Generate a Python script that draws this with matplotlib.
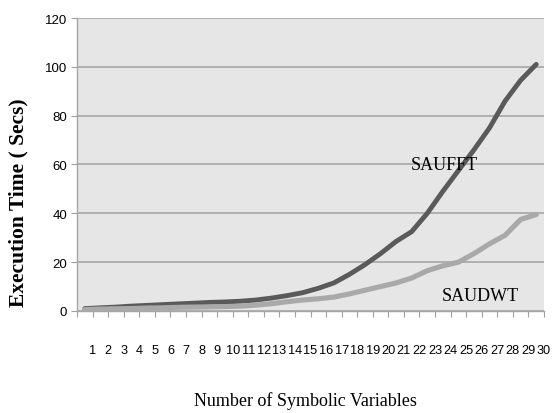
import matplotlib.pyplot as plt
import numpy as np

variables = list(range(1, 31))
sauft = [1.0, 1.3, 1.6, 2.0, 2.3, 2.6, 2.9, 3.2, 3.5, 3.7,
         4.0, 4.5, 5.3, 6.3, 7.5, 9.3, 11.5, 15.0, 19.0, 23.5,
         28.5, 32.5, 40.0, 49.0, 57.5, 66.0, 75.0, 86.0, 94.5, 101.0]
saudwt = [0.6, 0.8, 0.9, 1.0, 1.2, 1.3, 1.5, 1.6, 1.7, 1.8,
          2.0, 2.4, 3.0, 3.8, 4.5, 5.0, 5.7, 7.0, 8.5, 10.0,
          11.5, 13.5, 16.5, 18.5, 20.0, 23.5, 27.5, 31.0, 37.5, 39.5]
y_ticks = [0, 20, 40, 60, 80, 100, 120]

sans = ['Liberation Sans', 'DejaVu Sans']
serif = ['Liberation Serif', 'DejaVu Serif']

fig = plt.figure(figsize=(5.52, 4.14), dpi=100)
ax = fig.add_axes([0.1395, 0.2464, 0.846, 0.7077])
ax.set_facecolor('#e6e6e6')

ax.plot(variables, sauft, color='#5a5a5a', linewidth=3.5, solid_capstyle='round', zorder=3)
ax.plot(variables, saudwt, color='#a9a9a9', linewidth=3.7, solid_capstyle='round', zorder=4)

ax.set_xlim(0.5, 30.5)
ax.set_ylim(0, 120)

# tick marks sit on the category boundaries, labels drawn at the right boundary
ax.set_xticks(np.arange(0.5, 31, 1.0))
ax.set_xticklabels([''] + [str(v) for v in variables], family=sans, fontsize=9.2)
ax.set_yticks(y_ticks)
ax.set_yticklabels([str(v) for v in y_ticks], family=sans, fontsize=9.5)
ax.tick_params(axis='x', length=4, width=0.8, color='#a0a0a0', pad=20)
ax.tick_params(axis='y', length=4, width=0.8, color='#a0a0a0', pad=3)

ax.yaxis.grid(True, color='#a6a6a6', linewidth=1.2)
ax.set_axisbelow(True)
for side in ['top', 'right']:
    ax.spines[side].set_visible(False)
for side in ['left', 'bottom']:
    ax.spines[side].set_color('#a6a6a6')
    ax.spines[side].set_linewidth(1.0)

ax.text(24.07, 60, 'SAUFFT', family=serif, fontsize=13, ha='center', va='center', zorder=5)
ax.text(26.38, 6.3, 'SAUDWT', family=serif, fontsize=13, ha='center', va='center', zorder=5)

fig.text(0.033, 0.51, 'Execution Time ( Secs)', family=serif, fontsize=15.5,
         fontweight='bold', rotation=90, ha='center', va='center')
fig.text(0.553, 0.031, 'Number of Symbolic Variables', family=serif, fontsize=13,
         ha='center', va='center')

plt.savefig('out.png', dpi=100)
